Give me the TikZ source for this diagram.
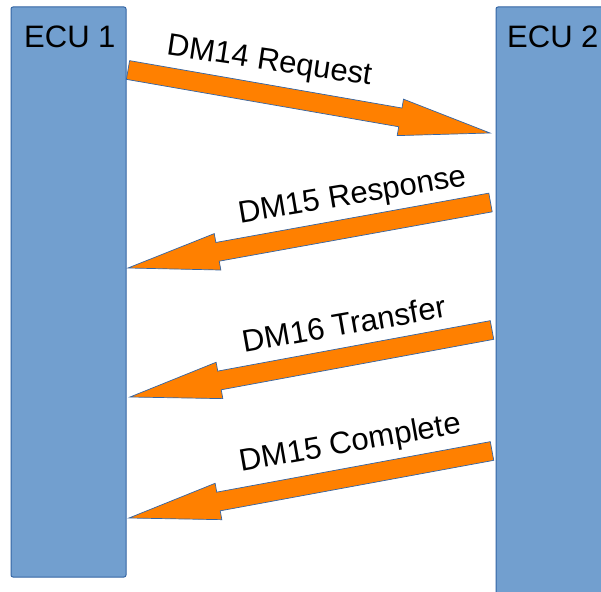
\documentclass[tikz,border=0pt]{standalone}
\usepackage{fontspec}
\setmainfont{Liberation Sans}
\usetikzlibrary{calc}
\definecolor{boxblue}{HTML}{729FCF}
\definecolor{edgeblue}{HTML}{3465A4}
\definecolor{arroworange}{HTML}{FF8000}
\tikzset{
  ecubox/.style={draw=edgeblue, fill=boxblue, line width=1pt, rounded corners=2pt, inner sep=0pt, outer sep=0pt},
  ecutext/.style={font=\fontsize{31}{36}\selectfont, inner sep=0pt},
  msgtext/.style={font=\fontsize{31}{36}\selectfont, inner sep=0pt, anchor=base},
  blockarrow/.style={draw=edgeblue, fill=arroworange, line width=0.7pt, line join=miter}
}
\newcommand{\barrow}[2]{%
  \coordinate (ba) at ($(#2)!91pt!(#1)$);
  \draw[blockarrow] ($(#1)!9.5pt!90:(#2)$) -- ($(ba)!9.5pt!90:(#2)$) -- ($(ba)!18.5pt!90:(#2)$) -- (#2)
    -- ($(ba)!18.5pt!-90:(#2)$) -- ($(ba)!9.5pt!-90:(#2)$) -- ($(#1)!9.5pt!-90:(#2)$) -- cycle;}
\begin{document}
\begin{tikzpicture}[x=1pt,y=1pt]
\useasboundingbox (0,0) rectangle (601,591);
\clip (0,0) rectangle (601,591);
\fill[white] (0,0) rectangle (601,591);
\node[ecubox, minimum width=115pt, minimum height=570pt, anchor=north west] (ecu1) at (11,584) {};
\node[ecubox, minimum width=120pt, minimum height=600pt, anchor=north west] (ecu2) at (496,584) {};
\node[ecutext, anchor=base west] (ecu1lbl) at (24,543) {ECU 1};
\node[ecutext, anchor=base west] (ecu2lbl) at (507,543) {ECU 2};
% message 1
\coordinate (m1t) at (128,521);
\coordinate (m1h) at (490,458);
\barrow{m1t}{m1h}
\node[msgtext, rotate=-8.5] (m1lbl) at (268,521) {DM14 Request};
% message 2
\coordinate (m2t) at (490.5,388.5);
\coordinate (m2h) at (128,323);
\barrow{m2t}{m2h}
\node[msgtext, rotate=9.5] (m2lbl) at (354,386.5) {DM15 Response};
% message 3
\coordinate (m3t) at (492,261);
\coordinate (m3h) at (130,194);
\barrow{m3t}{m3h}
\node[msgtext, rotate=10] (m3lbl) at (346,256) {DM16 Transfer};
% message 4
\coordinate (m4t) at (492,140);
\coordinate (m4h) at (129,73);
\barrow{m4t}{m4h}
\node[msgtext, rotate=10] (m4lbl) at (352,139) {DM15 Complete};
\end{tikzpicture}
\end{document}
